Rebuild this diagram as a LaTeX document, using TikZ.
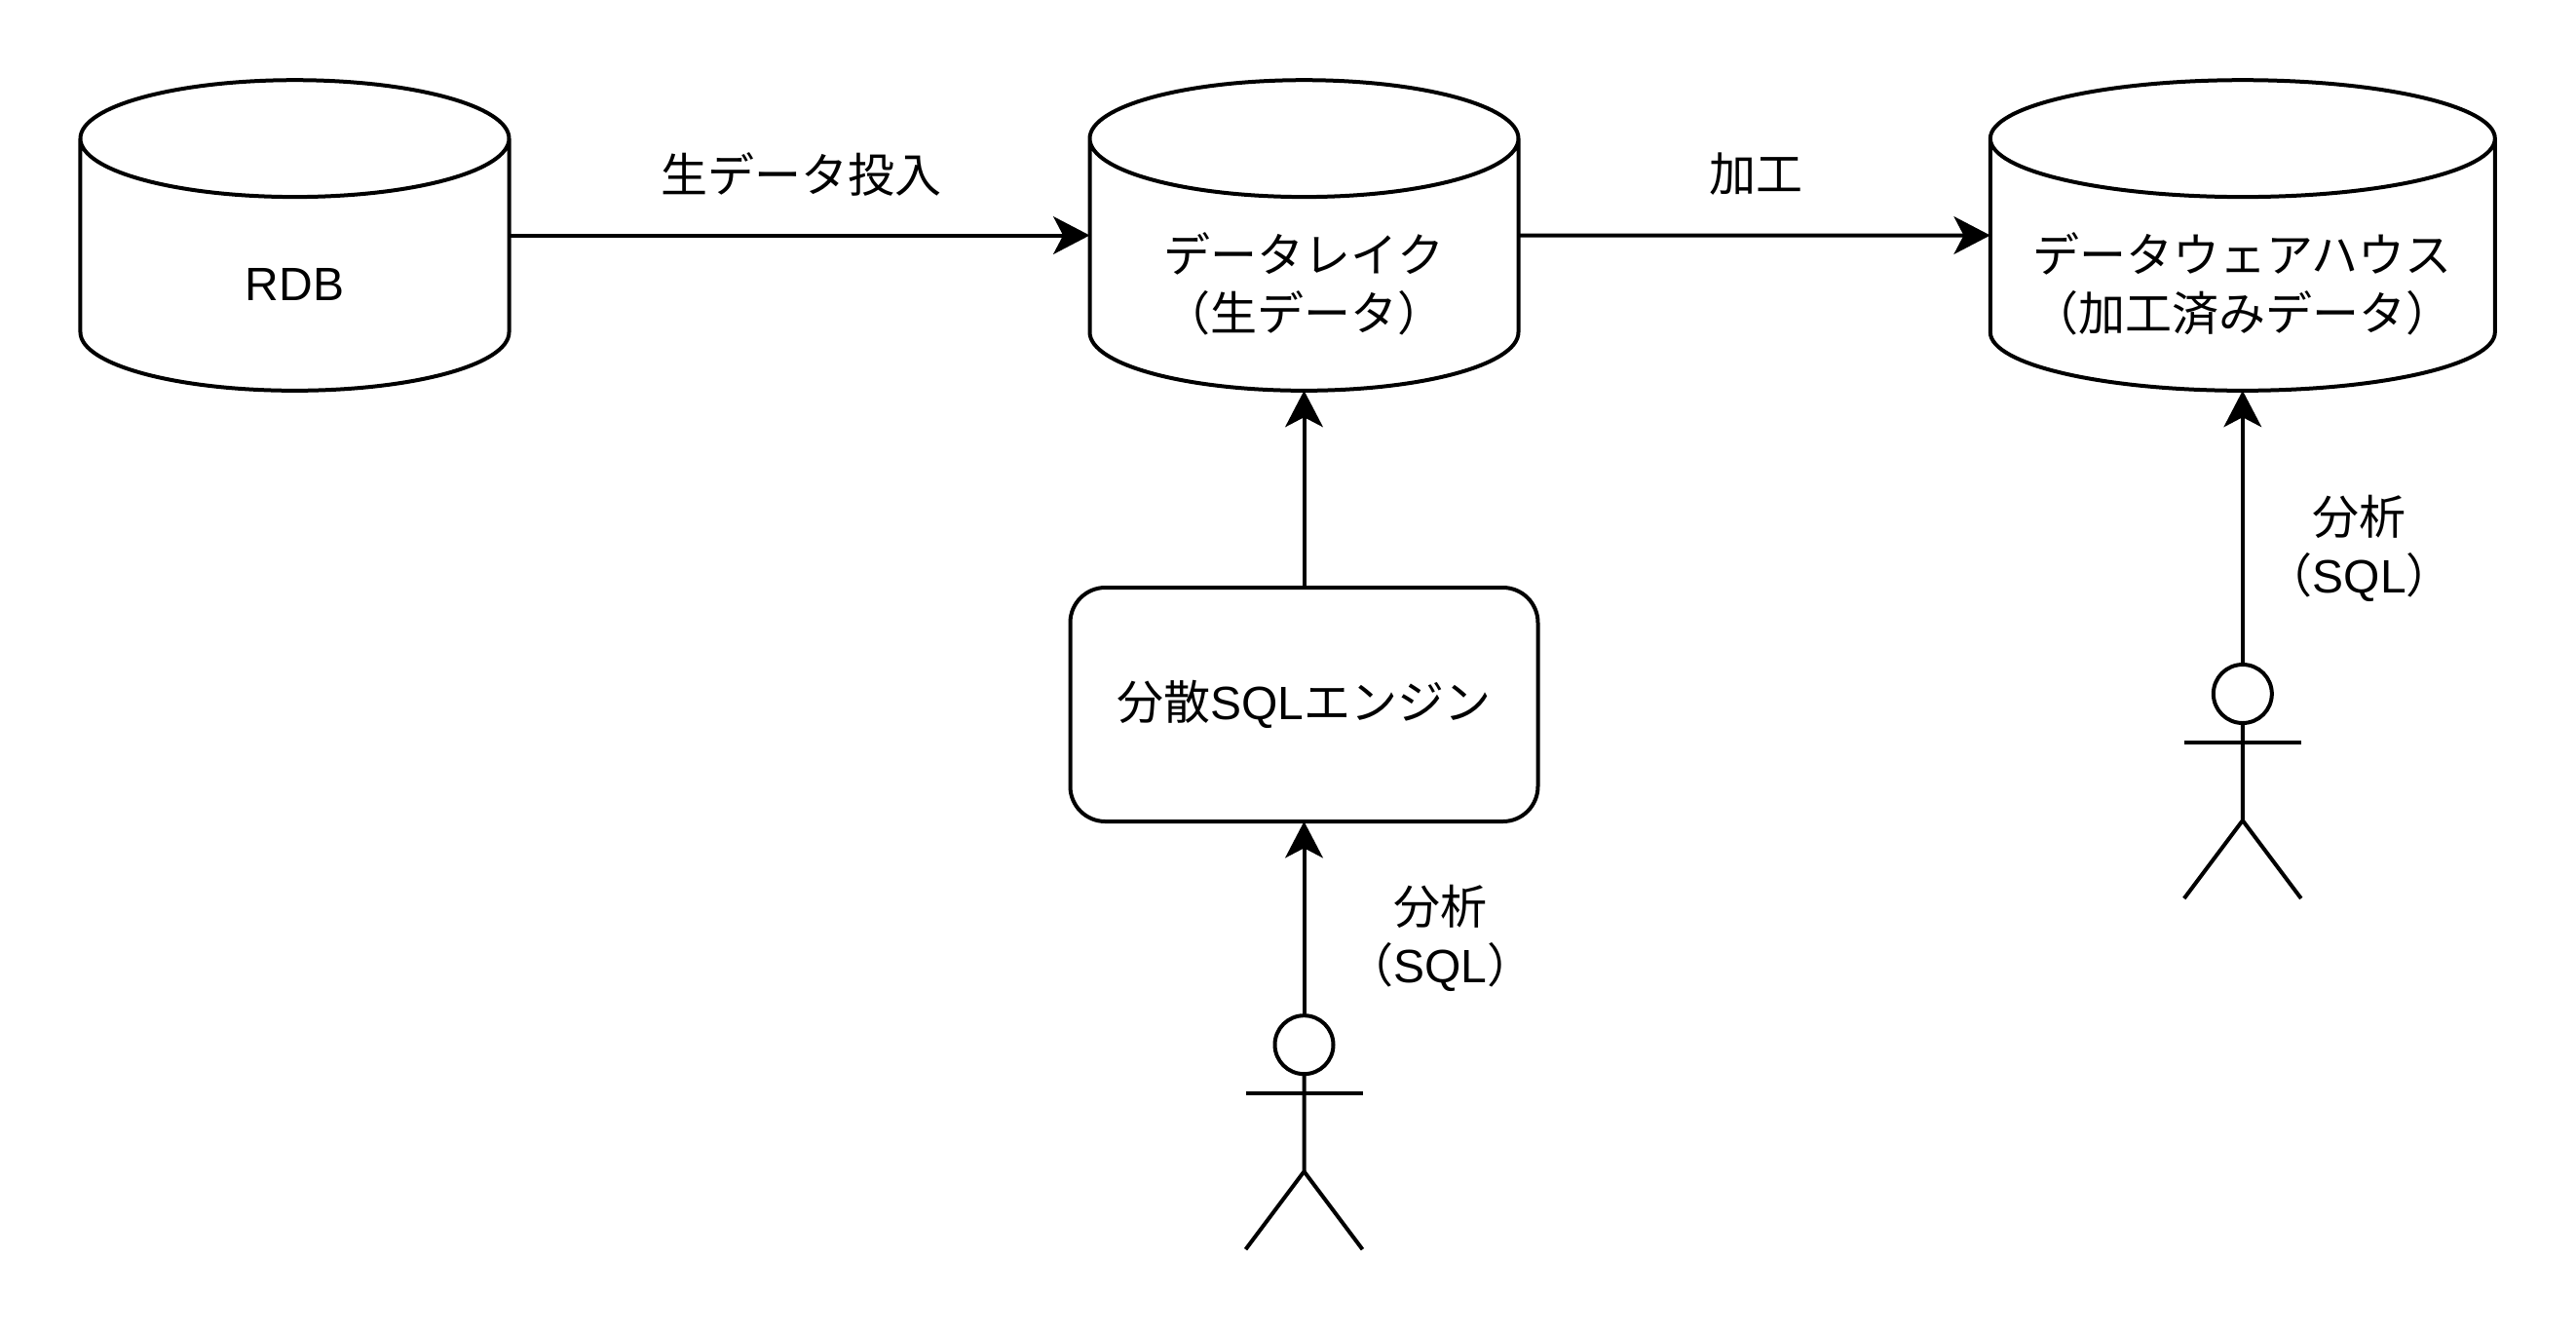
\documentclass[tikz,border=0pt]{standalone}
\usepackage{fontspec}
\setmainfont{Liberation Sans}
\newfontfamily\cjk{Noto Sans CJK JP}
\usepackage{tikz}
\usetikzlibrary{shapes.geometric,arrows.meta,calc}
\tikzstyle{database} = [cylinder, shape border rotate=90, draw=black, line width=1.2pt, outer sep=0pt, inner sep=0pt, align=center, font=\fontsize{14.4}{18}\selectfont, minimum height=95.6pt, text width=132pt, aspect=0.2725, text depth=0pt]
\tikzstyle{oneline} = [text height=21.3pt]
\tikzstyle{twoline} = [text height=3.9pt]
\tikzstyle{engine} = [rectangle, rounded corners=10.8pt, draw=black, line width=1.2pt, outer sep=0pt, align=center, font=\fontsize{14.4}{18}\selectfont, minimum width=144pt, minimum height=72pt]
\tikzstyle{head} = [circle, draw=black, line width=1.2pt, outer sep=0pt, inner sep=0pt, minimum size=18pt]
\tikzstyle{person} = [line width=1.2pt]
\tikzstyle{caption} = [align=center, font=\fontsize{14.4}{18}\selectfont]
\tikzstyle{arrow} = [line width=1.2pt,-{Stealth[length=11.2pt,width=11.6pt,inset=3pt]}]
\begin{document}
\begin{tikzpicture}[node distance=310.8pt]
\useasboundingbox (-90.75pt,81.75pt) rectangle (702.45pt,-328.65pt);
\node (rdb) [database, oneline] {RDB};
\node (lake) [database, twoline, right of=rdb] {{\cjk データレイク}\\{\cjk （生データ）}};
\node (warehouse) [database, twoline, text width=155.4pt, aspect=0.2315, right of=lake, node distance=289pt] {{\cjk データウェアハウス}\\{\cjk （加工済みデータ）}};
\node (sqlEngine) [engine, below of=lake, node distance=135.15pt] {{\cjk 分散}SQL{\cjk エンジン}};
\node (headA) [head, below of=sqlEngine, node distance=104.75pt] {};
\node (headB) [head, below of=warehouse, node distance=131.85pt] {};

\draw [arrow] (rdb.shape center -| rdb.east) -- node[caption, xshift=0.5pt, yshift=18.9pt] {\cjk 生データ投入} (lake.shape center -| lake.west);
\draw [arrow] (lake.shape center -| lake.east) -- node[caption, xshift=0.5pt, yshift=18.9pt] {\cjk 加工} (warehouse.shape center -| warehouse.west);
\draw [arrow] (sqlEngine.north) -- (lake.bottom);
\draw [arrow] (headA.north) -- node[caption, xshift=42pt, yshift=-6pt] {{\cjk 分析}\\{\cjk （}SQL{\cjk ）}} (sqlEngine.south);
\draw [arrow] (headB.north) -- node[caption, xshift=36pt, yshift=-6.5pt] {{\cjk 分析}\\{\cjk （}SQL{\cjk ）}} (warehouse.bottom);

% stick figures
\foreach \who in {headA,headB} {
\draw [person] (\who.south) -- ++(0,-30pt) -- ++(-18pt,-24pt);
\draw [person] (\who.south) ++(0,-30pt) -- ++(18pt,-24pt);
\draw [person] (\who.south) ++(-18pt,-6pt) -- ++(36pt,0);
}
\end{tikzpicture}
\end{document}
